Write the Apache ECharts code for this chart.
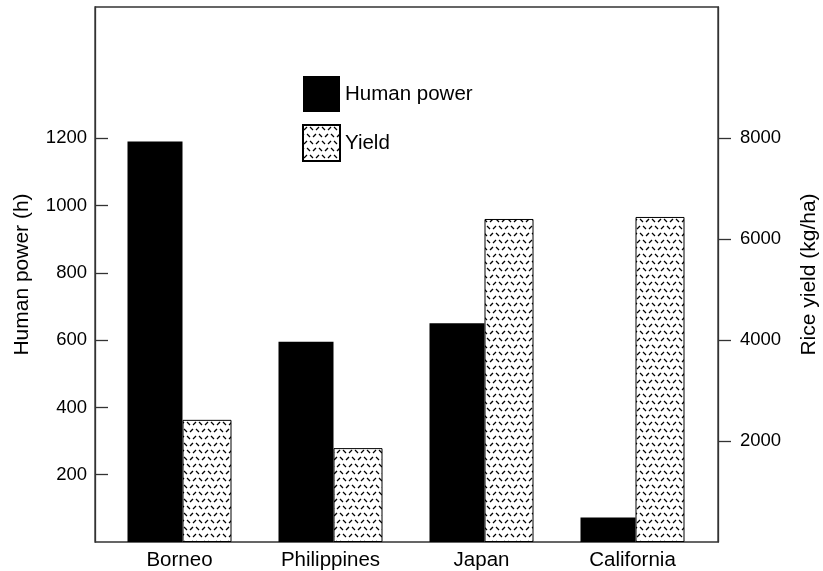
<!DOCTYPE html>
<html>
<head>
<meta charset="utf-8">
<script src="https://cdn.jsdelivr.net/npm/echarts@6/dist/echarts.min.js"></script>
<style>
  html, body { margin: 0; padding: 0; background: #fff; }
  #chart { width: 823px; height: 571px; }
</style>
</head>
<body>
<div id="chart"></div>
<script>
// Hours of human labour and rice yield per hectare, by region
const regions = ['Borneo', 'Philippines', 'Japan', 'California'];
const humanPower = [1190, 595, 650, 73];      // h
const riceYield = [2420, 1860, 6400, 6440];   // kg/ha
const powerTicks = [200, 400, 600, 800, 1000, 1200];
const yieldTicks = [2000, 4000, 6000, 8000];

const FONT = "'Liberation Sans', Arial, Helvetica, sans-serif";
const FRAME = '#333';

// Small tile of short alternating diagonal dashes, rows offset sideways
function makeHatch() {
  const w = 12, h = 14;
  const c = document.createElement('canvas');
  c.width = w; c.height = h;
  const g = c.getContext('2d');
  g.fillStyle = '#fff';
  g.fillRect(0, 0, w, h);
  g.strokeStyle = '#000';
  g.lineWidth = 1.25;
  g.lineCap = 'butt';
  const seg = (x1, y1, x2, y2) => { g.beginPath(); g.moveTo(x1, y1); g.lineTo(x2, y2); g.stroke(); };
  seg(1, 5, 4, 2);
  seg(7, 2, 10, 5);
  seg(4, 9, 7, 12);
  seg(10, 12, 13, 9);
  seg(-2, 12, 1, 9);
  return c;
}
const hatch = { image: makeHatch(), repeat: 'repeat' };
const plain = v => String(v);

const chart = echarts.init(document.getElementById('chart'), null, { renderer: 'canvas' });

chart.setOption({
  animation: false,
  backgroundColor: '#fff',
  textStyle: { fontFamily: FONT, color: '#000' },
  legend: {
    orient: 'vertical',
    left: 297,
    top: 71,
    itemWidth: 37,
    itemHeight: 36,
    itemGap: 12,
    icon: 'rect',
    textStyle: { fontFamily: FONT, fontSize: 20.5, color: '#000' },
    data: ['Human power', 'Yield']
  },
  grid: [
    // framed plotting box carrying both value axes
    { left: 95, right: 105, top: 7, bottom: 29, show: true, borderColor: FRAME, borderWidth: 1.3, backgroundColor: 'transparent', containLabel: false, outerBoundsMode: 'none' },
    // band area for the grouped bars
    { left: 104, right: 115, top: 7, bottom: 29, containLabel: false, outerBoundsMode: 'none' }
  ],
  xAxis: [
    { gridIndex: 0, type: 'category', data: regions, show: false },
    {
      gridIndex: 1, type: 'category', data: regions,
      axisLine: { show: false }, axisTick: { show: false },
      axisLabel: { fontFamily: FONT, fontSize: 20.5, color: '#000', margin: 8 }
    }
  ],
  yAxis: [
    {
      gridIndex: 0, type: 'value', position: 'left', min: 0, max: 1590,
      name: 'Human power (h)', nameLocation: 'middle', nameRotate: 90, nameGap: 62,
      nameTextStyle: { fontFamily: FONT, fontSize: 21, color: '#000' },
      axisLine: { show: true, lineStyle: { color: FRAME, width: 1.3 } },
      axisTick: { show: true, inside: true, length: 13, customValues: powerTicks, lineStyle: { color: FRAME, width: 1.3 } },
      axisLabel: { customValues: powerTicks, formatter: plain, fontFamily: FONT, fontSize: 18.5, color: '#000', margin: 8 },
      splitLine: { show: false }
    },
    {
      gridIndex: 0, type: 'value', position: 'right', min: 0, max: 10600,
      name: 'Rice yield (kg/ha)', nameLocation: 'middle', nameRotate: 90, nameGap: 81,
      nameTextStyle: { fontFamily: FONT, fontSize: 21, color: '#000' },
      axisLine: { show: true, lineStyle: { color: FRAME, width: 1.3 } },
      axisTick: { show: true, inside: false, length: 13, customValues: yieldTicks, lineStyle: { color: FRAME, width: 1.3 } },
      axisLabel: { customValues: yieldTicks, formatter: plain, fontFamily: FONT, fontSize: 18.5, color: '#000', margin: 22 },
      splitLine: { show: false }
    },
    { gridIndex: 1, type: 'value', min: 0, max: 1590, show: false, splitLine: { show: false } },
    { gridIndex: 1, type: 'value', min: 0, max: 10600, show: false, splitLine: { show: false } }
  ],
  series: [
    {
      name: 'Human power', type: 'bar', xAxisIndex: 1, yAxisIndex: 2,
      data: humanPower, barWidth: 55, barGap: '0%',
      itemStyle: { color: '#000' }
    },
    {
      name: 'Yield', type: 'bar', xAxisIndex: 1, yAxisIndex: 3,
      data: riceYield, barWidth: 49, barGap: '0%',
      itemStyle: { color: hatch, borderColor: '#000', borderWidth: 1 }
    }
  ]
});
</script>
</body>
</html>
